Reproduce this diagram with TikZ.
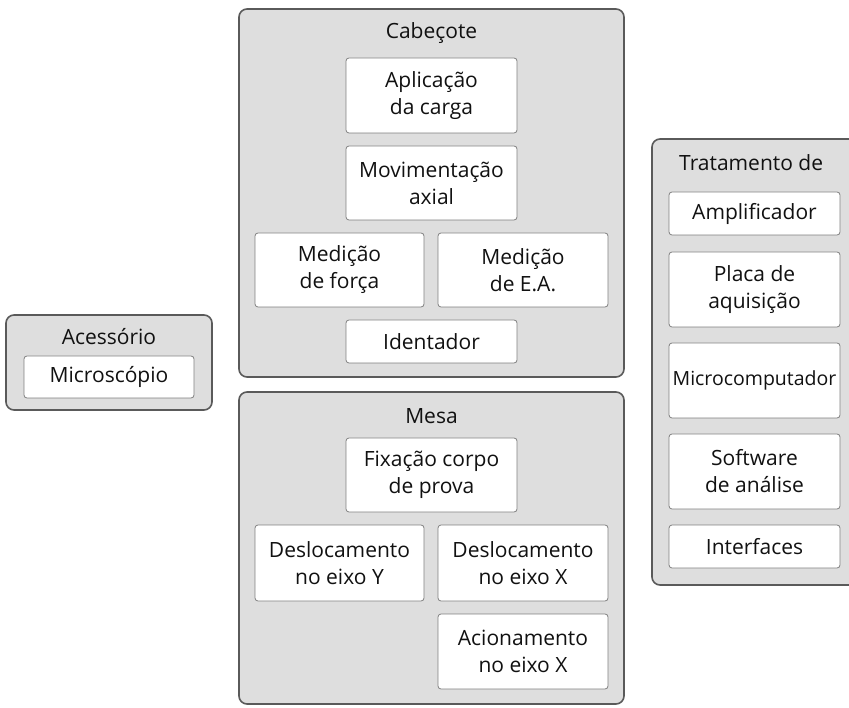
\documentclass[tikz,border=0pt]{standalone}
\usepackage{fontspec}
\setmainfont{Open Sans}
\definecolor{outerfill}{HTML}{DEDEDE}
\definecolor{outerline}{HTML}{5A5A5A}
\definecolor{innerline}{HTML}{808080}
\definecolor{txt}{HTML}{111111}
\begin{document}
\begin{tikzpicture}[x=1pt,y=-1pt,
  group/.style={draw=outerline,line width=1.6pt,fill=outerfill,rounded corners=8pt,inner sep=0pt},
  item/.style={draw=innerline,line width=0.8pt,fill=white,rounded corners=3pt,inner sep=0pt,align=center,text=txt,font=\fontsize{21}{27}\selectfont},
  title/.style={text=txt,font=\fontsize{21}{27}\selectfont,inner sep=0pt}]
\clip (0,0) rectangle (849,708);
\fill[white] (0,0) rectangle (849,708);
% Cabecote
\node[group,minimum width=385pt,minimum height=368pt] (cab) at (431.5,193) {};
\node[title] (cabt) at (431.5,33) {Cabeçote};
\node[item,minimum width=171pt,minimum height=75pt] (apl) at (431.5,95.5) {Aplicação\\da carga};
\node[item,minimum width=171pt,minimum height=74pt] (mov) at (431.5,183) {Movimentação\\axial};
\node[item,minimum width=169pt,minimum height=74pt] (mf) at (339.5,270) {Medição\\de força};
\node[item,minimum width=170pt,minimum height=74pt] (mea) at (523,270) {Medição\\de E.A.};
\node[item,minimum width=171pt,minimum height=43pt] (ide) at (431.5,341.5) {Identador};
% Mesa
\node[group,minimum width=385pt,minimum height=312pt] (mesa) at (431.5,548) {};
\node[title] (mesat) at (431.5,416) {Mesa};
\node[item,minimum width=171pt,minimum height=74pt] (fix) at (431.5,475) {Fixação corpo\\de prova};
\node[item,minimum width=169pt,minimum height=76pt] (dy) at (339.5,563) {Deslocamento\\no eixo Y};
\node[item,minimum width=170pt,minimum height=76pt] (dx) at (523,563) {Deslocamento\\no eixo X};
\node[item,minimum width=170pt,minimum height=75pt] (ax) at (523,651.5) {Acionamento\\no eixo X};
% Acessorio
\node[group,minimum width=206pt,minimum height=95pt] (ace) at (109,362.5) {};
\node[title] (acet) at (109,337) {Acessório};
\node[item,minimum width=170pt,minimum height=42pt] (mic) at (109,377) {Microscópio};
% Tratamento
\node[group,minimum width=206pt,minimum height=446pt] (tra) at (755,362) {};
\node[title,anchor=west] (trat) at (679,163) {Tratamento de};
\node[item,minimum width=171pt,minimum height=43pt] (amp) at (754.5,213.5) {Amplificador};
\node[item,minimum width=171pt,minimum height=75pt] (pla) at (754.5,289.5) {Placa de\\aquisição};
\node[item,minimum width=171pt,minimum height=75pt,font=\fontsize{19.5}{25}\selectfont] (mcp) at (754.5,380.5) {Microcomputador};
\node[item,minimum width=171pt,minimum height=75pt] (sof) at (754.5,471.5) {Software\\de análise};
\node[item,minimum width=171pt,minimum height=43pt] (int) at (754.5,546.5) {Interfaces};
\end{tikzpicture}
\end{document}
